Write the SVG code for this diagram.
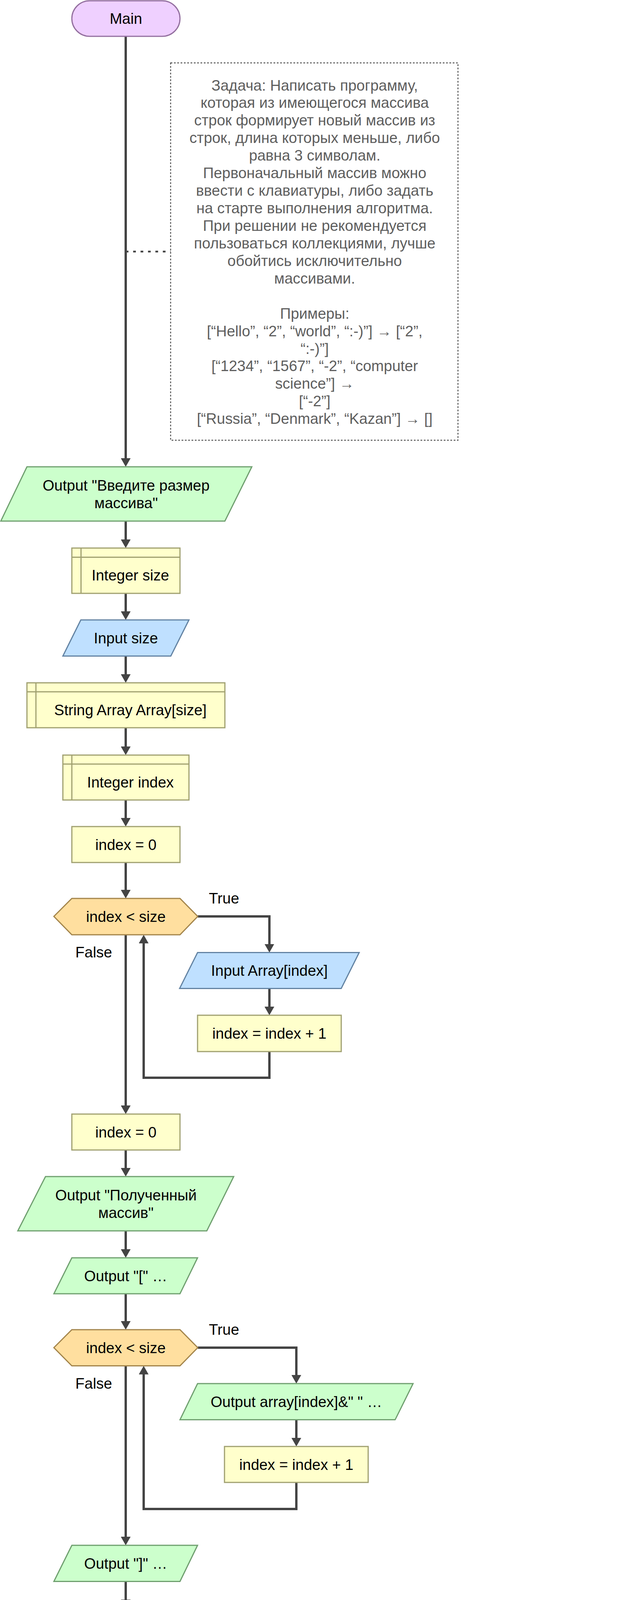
<svg xmlns="http://www.w3.org/2000/svg" width="1588" height="6786" viewBox="0 0 1588 6786">
<defs>
<style>
text{font-family:"Liberation Sans",Arial,sans-serif;font-size:38.4px;fill:#000}
.c{text-anchor:middle}
.s{text-anchor:start}
.e{text-anchor:end}
.note text{fill:#5e5e5e;text-anchor:middle}
.edge{fill:none;stroke:#444;stroke-width:6;marker-end:url(#ah)}
.plain{fill:none;stroke:#444;stroke-width:6}
.term{fill:#efd0ff;stroke:#9470a0;stroke-width:3}
.out{fill:#ccffcc;stroke:#6f9f6f;stroke-width:3}
.inp{fill:#bfe0ff;stroke:#6383a3;stroke-width:3}
.proc{fill:#ffffcc;stroke:#a0a070;stroke-width:3}
.hex{fill:#ffdf9f;stroke:#a3844a;stroke-width:3}
.dec{fill:#ffcece;stroke:#a07070;stroke-width:3}
</style>
<marker id="ah" viewBox="0 0 22 25" refX="12" refY="12.5" markerWidth="22" markerHeight="25" markerUnits="userSpaceOnUse" orient="auto">
<path d="M0,0 L22,12.5 L0,25 Z" fill="#444"/>
</marker>
</defs>
<rect width="1588" height="6786" fill="#fff"/>

<g id="connectors">
<line x1="322" y1="644" x2="437" y2="644" stroke="#444" stroke-width="4.5" stroke-dasharray="7 12"/>
<path class="edge" d="M322,93 V1185"/>
<path class="edge" d="M322,1334 V1393"/>
<path class="edge" d="M322,1519 V1577"/>
<path class="edge" d="M322,1679.5 V1738"/>
<path class="edge" d="M322,1863 V1923"/>
<path class="edge" d="M322,2048 V2106"/>
<path class="edge" d="M322,2208 V2290"/>
<path class="edge" d="M506.5,2346 H690 V2428.5"/>
<path class="edge" d="M690,2530.5 V2589"/>
<path class="edge" d="M690,2692 V2759 H368 V2403"/>
<path class="edge" d="M322,2393 V2842"/>
<path class="edge" d="M322,2944 V3002"/>
<path class="edge" d="M322,3151 V3210"/>
<path class="edge" d="M322,3312 V3394"/>
<path class="edge" d="M506.5,3450 H759 V3532"/>
<path class="edge" d="M759,3634.6 V3693"/>
<path class="edge" d="M759,3795 V3863 H368 V3506.5"/>
<path class="edge" d="M322,3496.5 V3946"/>
<path class="edge" d="M322,4048.5 V4107"/>
<path class="edge" d="M322,4210 V4268"/>
<path class="edge" d="M322,4439 V4498"/>
<path class="edge" d="M322,4624 V4682"/>
<path class="edge" d="M322,4784 V4866"/>
<path class="edge" d="M575,4922.5 H920 V5004.5"/>
<path class="edge" d="M1195,5152 H1334 V5326"/>
<path class="edge" d="M1334,5475 V5533"/>
<path class="edge" d="M1334,5635 V5727 H954"/>
<path class="edge" d="M645,5152 H483 V5727 H886.5"/>
<path class="edge" d="M920,5751 V5818 H368 V4979"/>
<path class="edge" d="M322,4969 V5901"/>
<path class="edge" d="M322,6003.6 V6084.6"/>
<path class="edge" d="M575,6140.6 H736 V6223"/>
<path class="edge" d="M736,6371 V6439 H368 V6197"/>
<path class="edge" d="M322,6187 V6522.6"/>
<path class="edge" d="M322,6624.5 V6683"/>
<text class="s" x="535" y="2313">True</text>
<text class="e" x="287" y="2451">False</text>
<text class="s" x="535" y="3417">True</text>
<text class="e" x="287" y="3555">False</text>
<text class="s" x="605" y="4889.5">Next</text>
<text class="e" x="287" y="5028">Done</text>
<text class="e" x="610" y="5120.5">False</text>
<text class="s" x="1225.5" y="5120.5">True</text>
<text class="s" x="605" y="6108">Next</text>
<text class="e" x="287" y="6246">Done</text>
</g>

<g id="n_main">
<rect class="term" x="184" y="2" width="277" height="91" rx="45.5"/>
<text class="c" x="322.5" y="61">Main</text>
</g>

<g id="n_note" class="note">
<rect x="437" y="161" width="736" height="966" fill="none" stroke="#555" stroke-width="2.5" stroke-dasharray="4.5 4"/>
<text x="806" y="231.5">Задача: Написать программу,</text>
<text x="806" y="276.4">которая из имеющегося массива</text>
<text x="806" y="321.4">строк формирует новый массив из</text>
<text x="806" y="366.3">строк, длина которых меньше, либо</text>
<text x="806" y="411.2">равна 3 символам.</text>
<text x="806" y="456.2">Первоначальный массив можно</text>
<text x="806" y="501.1">ввести с клавиатуры, либо задать</text>
<text x="806" y="546">на старте выполнения алгоритма.</text>
<text x="806" y="590.9">При решении не рекомендуется</text>
<text x="806" y="635.9">пользоваться коллекциями, лучше</text>
<text x="806" y="680.8">обойтись исключительно</text>
<text x="806" y="725.7">массивами.</text>
<text x="806" y="815.6">Примеры:</text>
<text x="806" y="860.5">[“Hello”, “2”, “world”, “:-)”] → [“2”,</text>
<text x="806" y="905.5">“:-)”]</text>
<text x="806" y="950.4">[“1234”, “1567”, “-2”, “computer</text>
<text x="806" y="995.3">science”] →</text>
<text x="806" y="1040.2">[“-2”]</text>
<text x="806" y="1085.2">[“Russia”, “Denmark”, “Kazan”] → []</text>
</g>

<g id="n_out1">
<polygon class="out" points="69,1195 645,1195 576,1334 2,1334"/>
<text class="c" x="323" y="1256">Output "Введите размер</text>
<text class="c" x="323" y="1301">массива"</text>
</g>

<g id="n_intsize">
<rect class="proc" x="184" y="1403" width="277" height="116"/>
<path class="proc" d="M207.5,1403 V1519 M184,1426.5 H461" fill="none"/>
<text class="c" x="334" y="1486">Integer size</text>
</g>

<g id="n_inpsize">
<polygon class="inp" points="207,1587 484,1587 437.5,1679.5 161,1679.5"/>
<text class="c" x="322.5" y="1647">Input size</text>
</g>

<g id="n_strarr">
<rect class="proc" x="69" y="1748" width="507" height="115"/>
<path class="proc" d="M92,1748 V1863 M69,1771 H576" fill="none"/>
<text class="c" x="334" y="1830.5">String Array Array[size]</text>
</g>

<g id="n_intindex">
<rect class="proc" x="161" y="1933" width="323" height="115"/>
<path class="proc" d="M184,1933 V2048 M161,1956 H484" fill="none"/>
<text class="c" x="334" y="2015.5">Integer index</text>
</g>

<g id="n_idx0a">
<rect class="proc" x="184" y="2116" width="277" height="92"/>
<text class="c" x="322.5" y="2175.5">index = 0</text>
</g>

<g id="n_loop1">
<polygon class="hex" points="138,2346 184,2300 461,2300 506.5,2346 461,2393 184,2393"/>
<text class="c" x="322.5" y="2359.5">index &lt; size</text>
</g>

<g id="n_inparr">
<polygon class="inp" points="506,2438.5 920,2438.5 874,2530.5 460,2530.5"/>
<text class="c" x="690" y="2498">Input Array[index]</text>
</g>

<g id="n_inc1">
<rect class="proc" x="506" y="2599" width="368" height="93"/>
<text class="c" x="690" y="2659">index = index + 1</text>
</g>

<g id="n_idx0b">
<rect class="proc" x="184" y="2852" width="277" height="92"/>
<text class="c" x="322.5" y="2911.5">index = 0</text>
</g>

<g id="n_out2">
<polygon class="out" points="116.5,3012 598.6,3012 529.7,3151 45.6,3151"/>
<text class="c" x="322.6" y="3072.5">Output "Полученный</text>
<text class="c" x="322.6" y="3117.5">массив"</text>
</g>

<g id="n_out3">
<polygon class="out" points="184,3220 506,3220 461,3312 138,3312"/>
<text class="c" x="322" y="3279.5">Output "[" …</text>
</g>

<g id="n_loop2">
<polygon class="hex" points="138,3450 184,3404 461,3404 506.5,3450 461,3496.5 184,3496.5"/>
<text class="c" x="322.5" y="3463.5">index &lt; size</text>
</g>

<g id="n_out4">
<polygon class="out" points="506,3542 1058,3542 1012,3634.6 461,3634.6"/>
<text class="c" x="759" y="3601.5">Output array[index]&amp;" " …</text>
</g>

<g id="n_inc2">
<rect class="proc" x="575" y="3703" width="368" height="92"/>
<text class="c" x="759" y="3762.5">index = index + 1</text>
</g>

<g id="n_out5">
<polygon class="out" points="184,3956 506,3956 461,4048.5 138,4048.5"/>
<text class="c" x="322" y="4015.5">Output "]" …</text>
</g>

<g id="n_idx0c">
<rect class="proc" x="184" y="4117" width="277" height="93"/>
<text class="c" x="322.5" y="4177">index = 0</text>
</g>

<g id="n_strres">
<rect class="proc" x="69" y="4278" width="507" height="161"/>
<path class="proc" d="M92,4278 V4439 M69,4301 H576" fill="none"/>
<text class="c" x="334" y="4361">String Array arrayResult</text>
<text class="c" x="334" y="4406">[size]</text>
</g>

<g id="n_inttemp">
<rect class="proc" x="161" y="4508" width="323" height="116"/>
<path class="proc" d="M184,4508 V4624 M161,4531 H484" fill="none"/>
<text class="c" x="334" y="4591">Integer temp</text>
</g>

<g id="n_temp0">
<rect class="proc" x="184" y="4692" width="277" height="92"/>
<text class="c" x="322.5" y="4751.5">temp = 0</text>
</g>

<g id="n_for1">
<polygon class="hex" points="69,4922.5 116.5,4876 529,4876 575,4922.5 529,4969 116.5,4969"/>
<text class="c" x="322" y="4936">index = 0 to size - 1</text>
</g>

<g id="n_if">
<polygon class="dec" points="920,5014.5 1195,5152 920,5291 645,5152"/>
<text class="c" x="920" y="5165.5">len(array[index]) &lt;= 3</text>
</g>

<g id="n_assign">
<rect class="proc" x="1081" y="5336" width="506" height="139"/>
<text class="c" x="1334" y="5396.5">arrayResult[temp] = array</text>
<text class="c" x="1334" y="5441.5">[index]</text>
</g>

<g id="n_tempinc">
<rect class="proc" x="1150" y="5543" width="369" height="92"/>
<text class="c" x="1334.5" y="5602.5">temp = temp + 1</text>
</g>

<g id="n_join">
<circle class="dec" cx="920" cy="5727" r="24"/>
</g>

<g id="n_out6">
<polygon class="out" points="162,5911 529,5911 484,6003.6 115.5,6003.6"/>
<text class="c" x="322.6" y="5971">Output " -&gt; [" …</text>
</g>

<g id="n_for2">
<polygon class="hex" points="69,6140.6 116.5,6094.6 529,6094.6 575,6140.6 529,6187 116.5,6187"/>
<text class="c" x="322" y="6154">index = 0 to temp - 1</text>
</g>

<g id="n_out7">
<polygon class="out" points="529,6233 1012,6233 944,6371 461,6371"/>
<text class="c" x="736.5" y="6292.5">Output arrayResult</text>
<text class="c" x="736.5" y="6337.5">[index]&amp;" " …</text>
</g>

<g id="n_out8">
<polygon class="out" points="184,6532.6 506,6532.6 461,6624.5 138,6624.5"/>
<text class="c" x="322" y="6592">Output "]" …</text>
</g>

<g id="n_end">
<rect class="term" x="184" y="6693" width="277" height="92" rx="46"/>
<text class="c" x="322.5" y="6752.5">End</text>
</g>
</svg>
